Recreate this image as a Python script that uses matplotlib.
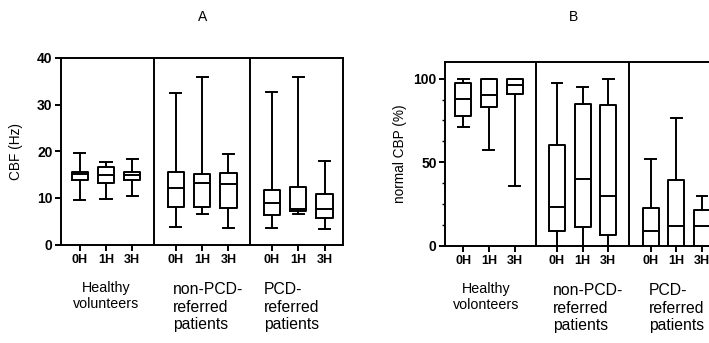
import matplotlib
matplotlib.use("Agg")
from matplotlib import pyplot as plt
from matplotlib.ticker import MultipleLocator

plt.rcParams['font.family'] = ['Liberation Sans', 'DejaVu Sans']

# time points and groups
times = ["0H", "1H", "3H"]
groups_a = ["Healthy\nvolunteers", "non-PCD-\nreferred\npatients", "PCD-\nreferred\npatients"]
groups_b = ["Healthy\nvolonteers", "non-PCD-\nreferred\npatients", "PCD-\nreferred\npatients"]

# A: CBF (Hz), 9 boxes = 3 groups x 3 time points
cbf_whislo = [9.6, 9.8, 10.4, 3.7, 6.6, 3.5, 3.6, 6.6, 3.4]
cbf_q1 = [13.9, 13.2, 13.9, 8.1, 8.0, 7.8, 6.4, 7.2, 5.8]
cbf_med = [15.1, 14.9, 14.9, 12.1, 13.3, 13.0, 8.9, 7.7, 7.7]
cbf_q3 = [15.6, 16.6, 15.6, 15.6, 15.1, 15.3, 11.8, 12.4, 10.9]
cbf_whishi = [19.6, 17.6, 18.4, 32.5, 35.9, 19.4, 32.6, 36.0, 17.9]

# B: normal CBP (%)
cbp_whislo = [71, 57, 36, 0, 0, 0, 0, 0, 0]
cbp_q1 = [77.5, 83, 91, 8.8, 11.4, 6.4, 0, 0, 0]
cbp_med = [88, 90.5, 96, 23, 40, 30, 9, 12, 11.8]
cbp_q3 = [97.5, 99.6, 99.6, 60.4, 85, 84, 22.4, 39.4, 21.4]
cbp_whishi = [100, 99.6, 99.6, 97.4, 95, 100, 52, 76.4, 30]

step = 3.65
positions = [g * step + t for g in range(3) for t in range(3)]
dividers = [2.825, 6.475]


def make_stats(lo, q1, med, q3, hi):
    return [dict(whislo=lo[i], q1=q1[i], med=med[i], q3=q3[i], whishi=hi[i], fliers=[])
            for i in range(len(lo))]


def draw_panel(ax, stats, groups, label_x, label_ha, ylabel, label_xcoord):
    lw = 1.4
    ax.bxp(stats, positions=positions, widths=0.62, capwidths=0.42, showfliers=False,
           boxprops=dict(color="black", linewidth=lw),
           whiskerprops=dict(color="black", linewidth=lw),
           capprops=dict(color="black", linewidth=lw),
           medianprops=dict(color="black", linewidth=lw))
    for d in dividers:
        ax.axvline(d, color="black", linewidth=1.4)
    ax.set_xlim(-0.71, 10.0)
    ax.set_xticks(positions)
    ax.set_xticklabels(times * 3, fontweight="bold", fontsize=9)
    for s in ax.spines.values():
        s.set_linewidth(1.4)
    ax.tick_params(axis="x", length=4, width=1.4, pad=3)
    ax.tick_params(axis="y", length=4, width=1.4, pad=2, labelsize=10)
    ax.set_ylabel(ylabel, fontsize=9.8)
    ax.yaxis.set_label_coords(label_xcoord, 0.5)
    for name, x, ha, fs, off in zip(groups, label_x, label_ha, [10.3, 11.3, 11.3], [26, 27, 27]):
        ax.annotate(name, xy=(x, 0), xycoords=("data", "axes fraction"),
                    xytext=(0, -off), textcoords="offset points",
                    ha=ha, va="top", fontsize=fs, linespacing=1.22,
                    multialignment="center" if ha == "center" else "left")


fig = plt.figure(figsize=(7.09, 3.43), dpi=100)

ax1 = fig.add_axes([0.086, 0.287, 0.3977, 0.544])
draw_panel(ax1, make_stats(cbf_whislo, cbf_q1, cbf_med, cbf_q3, cbf_whishi),
           groups_a, [1.0, 3.54, 7.0], ["center", "left", "left"], "CBF (Hz)", -0.135)
ax1.set_ylim(0, 40)
ax1.set_yticks([0, 10, 20, 30, 40])
for t in ax1.get_yticklabels():
    t.set_fontweight("bold")

ax2 = fig.add_axes([0.6276, 0.2837, 0.3879, 0.5356])
draw_panel(ax2, make_stats(cbp_whislo, cbp_q1, cbp_med, cbp_q3, cbp_whishi),
           groups_b, [0.9, 3.5, 7.22], ["center", "left", "left"], "normal CBP (%)", -0.138)
ax2.set_ylim(0, 110)
ax2.set_yticks([0, 50, 100])
ax2.yaxis.set_minor_locator(MultipleLocator(12.5))
ax2.tick_params(axis="y", which="minor", length=2.5, width=1.0)
for t in ax2.get_yticklabels():
    t.set_fontweight("bold")

fig.text(203 / 709, 1 - 17 / 343, "A", ha="center", va="center", fontsize=10)
fig.text(573 / 709, 1 - 17 / 343, "B", ha="center", va="center", fontsize=10)

plt.savefig("out.png", dpi=100)
